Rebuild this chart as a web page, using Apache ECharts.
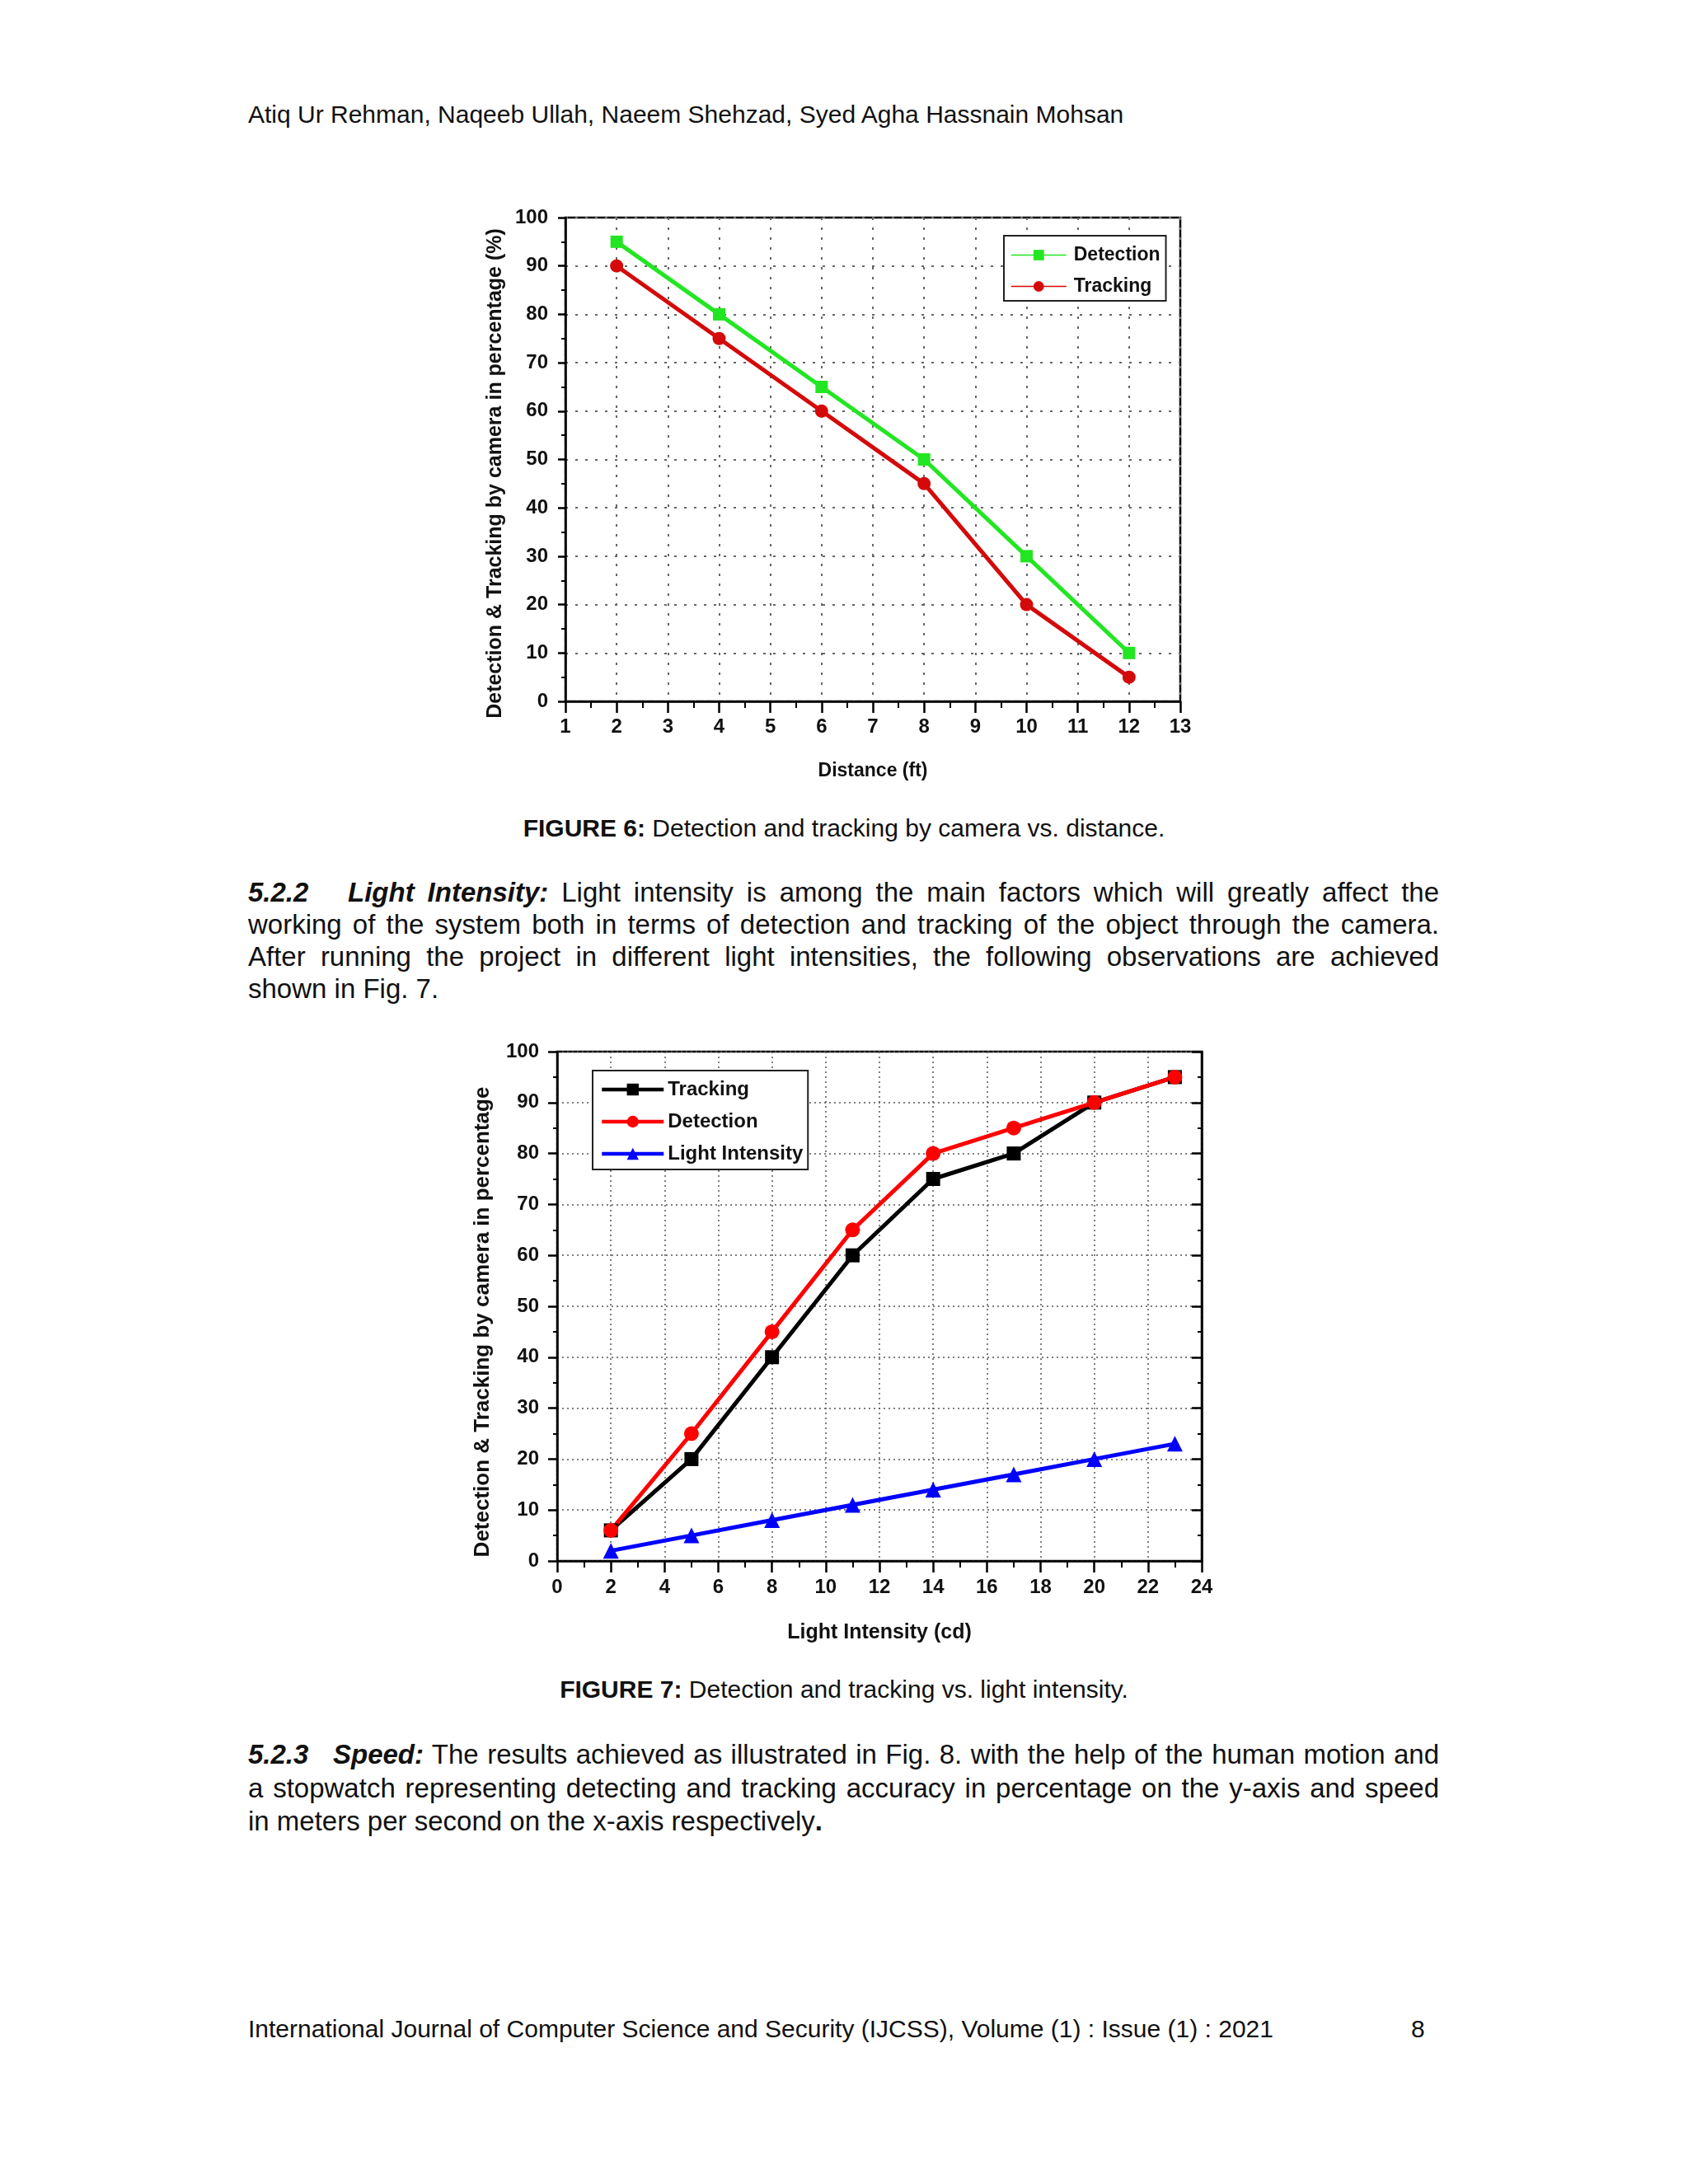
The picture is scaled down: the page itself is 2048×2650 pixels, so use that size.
<!DOCTYPE html>
<html>
<head>
<meta charset="utf-8">
<script src="https://cdn.jsdelivr.net/npm/echarts@6/dist/echarts.min.js"></script>
<style>
  html, body { margin: 0; padding: 0; background: #fff; }
  body { width: 2048px; height: 2650px; position: relative; font-family: "Liberation Sans", Arial, sans-serif; color: #111; }
  .t { position: absolute; white-space: nowrap; line-height: 40px; }
  .j { width: 1445px; text-align: justify; text-align-last: justify; }
  .body { font-size: 33px; left: 301px; }
  .small { font-size: 30px; }
  .cap { left: 0; width: 2048px; text-align: center; font-size: 30px; }
  .num { display: inline-block; font-weight: bold; font-style: italic; }
  #c1 { position: absolute; left: 0; top: 220px; width: 2048px; height: 740px; }
  #c2 { position: absolute; left: 0; top: 1240px; width: 2048px; height: 780px; }
</style>
</head>
<body>
<div class="t small" style="left:301px; top:119px;">Atiq Ur Rehman, Naqeeb Ullah, Naeem Shehzad, Syed Agha Hassnain Mohsan</div>

<div id="c1"></div>
<div class="t cap" style="top:985px;"><b>FIGURE 6:</b> Detection and tracking by camera vs. distance.</div>

<div class="t body j" style="top:1063px;"><span class="num" style="width:121px;">5.2.2</span><b><i>Light Intensity:</i></b> Light intensity is among the main factors which will greatly affect the</div>
<div class="t body j" style="top:1102px;">working of the system both in terms of detection and tracking of the object through the camera.</div>
<div class="t body j" style="top:1141px;">After running the project in different light intensities, the following observations are achieved</div>
<div class="t body" style="top:1180px;">shown in Fig. 7.</div>

<div id="c2"></div>
<div class="t cap" style="top:2030px;"><b>FIGURE 7:</b> Detection and tracking vs. light intensity.</div>

<div class="t body j" style="top:2109px;"><span class="num" style="width:103px;">5.2.3</span><b><i>Speed:</i></b> The results achieved as illustrated in Fig. 8. with the help of the human motion and</div>
<div class="t body j" style="top:2150px;">a stopwatch representing detecting and tracking accuracy in percentage on the y-axis and speed</div>
<div class="t body" style="top:2190px;">in meters per second on the x-axis respectively<b>.</b></div>

<div class="t small" style="left:301px; top:2442px;">International Journal of Computer Science and Security (IJCSS), Volume (1) : Issue (1) : 2021</div>
<div class="t small" style="left:1712px; top:2442px;">8</div>

<script>
// Figure 6 data
var distance = [2, 4, 6, 8, 10, 12];
var detectionByDistance = [95, 80, 65, 50, 30, 10];
var trackingByDistance = [90, 75, 60, 45, 20, 5];

// Figure 7 data
var intensity = [2, 5, 8, 11, 14, 17, 20, 23];
var trackingByLight = [6, 20, 40, 60, 75, 80, 90, 95];
var detectionByLight = [6, 25, 45, 65, 80, 85, 90, 95];
var lightValues = [2, 5, 8, 11, 14, 17, 20, 23];

var font = '"Liberation Sans", Arial, sans-serif';

function pairs(xs, ys) {
    return xs.map(function (x, i) { return [x, ys[i]]; });
}

function labelStyle(size, margin) {
    return { fontFamily: font, fontWeight: 'bold', fontSize: size, color: '#111', margin: margin };
}

// ---------- Figure 6 ----------
var chart1 = echarts.init(document.getElementById('c1'));
chart1.setOption({
    animation: false,
    grid: {
        left: 686, top: 44, width: 746, height: 587,
        show: true, borderColor: '#000', borderWidth: 2.5, backgroundColor: 'transparent'
    },
    legend: {
        left: 1218, top: 66, orient: 'vertical',
        data: ['Detection', 'Tracking'],
        backgroundColor: '#fff', borderColor: '#222', borderWidth: 2,
        padding: [12, 7, 6, 8], itemGap: 15,
        itemWidth: 67, itemHeight: 16,
        lineStyle: { width: 1.5 },
        textStyle: { fontFamily: font, fontWeight: 'bold', fontSize: 23, color: '#111', padding: [0, 0, 0, 4] }
    },
    xAxis: {
        type: 'value', min: 1, max: 13, interval: 1,
        name: 'Distance (ft)', nameLocation: 'middle', nameGap: 73,
        nameTextStyle: { fontFamily: font, fontWeight: 'bold', fontSize: 23, color: '#111' },
        axisLine: { onZero: false, lineStyle: { color: '#000', width: 2.5 } },
        axisTick: { length: 14, lineStyle: { color: '#000', width: 2.5 } },
        minorTick: { show: true, splitNumber: 2, length: 8, lineStyle: { color: '#000', width: 2 } },
        axisLabel: labelStyle(24, 19),
        splitLine: { show: true, lineStyle: { color: '#666', width: 2, type: [3, 9] } }
    },
    yAxis: {
        type: 'value', min: 0, max: 100, interval: 10,
        name: 'Detection & Tracking by camera in percentage (%)',
        nameLocation: 'middle', nameGap: 72,
        nameTextStyle: { fontFamily: font, fontWeight: 'bold', fontSize: 25, color: '#111', padding: [0, 34, 0, 0] },
        axisLine: { lineStyle: { color: '#000', width: 2.5 } },
        axisTick: { length: 9, lineStyle: { color: '#000', width: 2.5 } },
        minorTick: { show: true, splitNumber: 2, length: 5, lineStyle: { color: '#000', width: 2 } },
        axisLabel: labelStyle(24, 21),
        splitLine: { show: true, lineStyle: { color: '#666', width: 2, type: [3, 9] } }
    },
    series: [
        {
            name: 'Detection', type: 'line', data: pairs(distance, detectionByDistance),
            symbol: 'rect', symbolSize: 15, color: '#22e622',
            lineStyle: { width: 5 }, itemStyle: { borderWidth: 0 }
        },
        {
            name: 'Tracking', type: 'line', data: pairs(distance, trackingByDistance),
            symbol: 'circle', symbolSize: 16, color: '#d40a0a',
            lineStyle: { width: 5 }, itemStyle: { borderWidth: 0 }
        }
    ]
});

// ---------- Figure 7 ----------
var chart2 = echarts.init(document.getElementById('c2'));
chart2.setOption({
    animation: false,
    grid: {
        left: 676, top: 36, width: 782, height: 618,
        show: true, borderColor: '#000', borderWidth: 2.5, backgroundColor: 'transparent'
    },
    legend: {
        left: 719, top: 59, orient: 'vertical',
        data: ['Tracking', 'Detection', 'Light Intensity'],
        backgroundColor: '#fff', borderColor: '#222', borderWidth: 2,
        padding: [11, 6, 7, 9], itemGap: 15,
        itemWidth: 75, itemHeight: 18,
        lineStyle: { width: 4.5 },
        textStyle: { fontFamily: font, fontWeight: 'bold', fontSize: 24, color: '#111' }
    },
    xAxis: {
        type: 'value', min: 0, max: 24, interval: 2,
        name: 'Light Intensity (cd)', nameLocation: 'middle', nameGap: 75,
        nameTextStyle: { fontFamily: font, fontWeight: 'bold', fontSize: 25, color: '#111' },
        axisLine: { onZero: false, lineStyle: { color: '#000', width: 2.5 } },
        axisTick: { length: 14, lineStyle: { color: '#000', width: 2.5 } },
        minorTick: { show: true, splitNumber: 2, length: 8, lineStyle: { color: '#000', width: 2 } },
        axisLabel: labelStyle(24, 20),
        splitLine: { show: true, lineStyle: { color: '#555', width: 1.5, type: [2, 4] } }
    },
    yAxis: [
        {
            type: 'value', min: 0, max: 100, interval: 10,
            name: 'Detection & Tracking by camera in percentage',
            nameLocation: 'middle', nameGap: 77,
            nameTextStyle: { fontFamily: font, fontWeight: 'bold', fontSize: 26, color: '#111', padding: [0, 38, 0, 0] },
            axisLine: { lineStyle: { color: '#000', width: 2.5 } },
            axisTick: { length: 11, lineStyle: { color: '#000', width: 2.5 } },
            minorTick: { show: true, splitNumber: 2, length: 5, lineStyle: { color: '#000', width: 2 } },
            axisLabel: labelStyle(24, 22),
            splitLine: { show: true, lineStyle: { color: '#555', width: 1.5, type: [2, 4] } }
        },
        {
            type: 'value', min: 0, max: 100, interval: 10, position: 'right',
            axisLine: { show: true, lineStyle: { color: '#000', width: 2.5 } },
            axisTick: { inside: true, length: 12, lineStyle: { color: '#000', width: 2.5 } },
            minorTick: { show: true, splitNumber: 2, length: 5, lineStyle: { color: '#000', width: 2 } },
            axisLabel: { show: false },
            splitLine: { show: false }
        }
    ],
    series: [
        {
            name: 'Tracking', type: 'line', data: pairs(intensity, trackingByLight),
            symbol: 'rect', symbolSize: 17, color: '#000',
            lineStyle: { width: 5 }, itemStyle: { borderWidth: 0 }
        },
        {
            name: 'Detection', type: 'line', data: pairs(intensity, detectionByLight),
            symbol: 'circle', symbolSize: 18, color: '#ff0000',
            lineStyle: { width: 5 }, itemStyle: { borderWidth: 0 }
        },
        {
            name: 'Light Intensity', type: 'line', data: pairs(intensity, lightValues),
            symbol: 'triangle', symbolSize: 19, color: '#0000ff',
            lineStyle: { width: 5 }, itemStyle: { borderWidth: 0 }
        }
    ]
});
</script>
</body>
</html>
